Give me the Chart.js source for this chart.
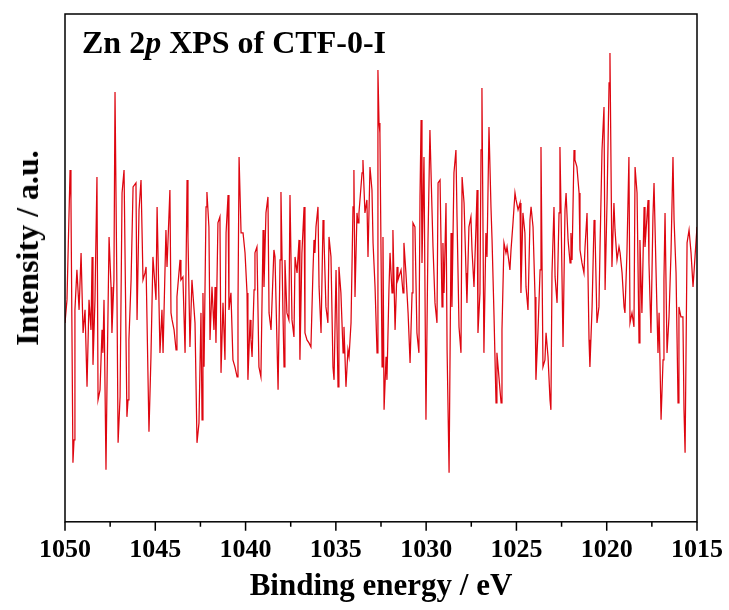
<!DOCTYPE html>
<html>
<head>
<meta charset="utf-8">
<script src="https://cdn.jsdelivr.net/npm/chart.js@4.4.1/dist/chart.umd.min.js"></script>
<style>
  body { margin: 0; background: #fff; }
  #wrap { position: relative; width: 729px; height: 610px; }
  #label {
    position: absolute; left: 82px; top: 26px;
    font: bold 32px "Liberation Serif", "Times New Roman", serif;
    line-height: 32px; color: #000; white-space: nowrap;
  }
  #ytitle {
    position: absolute; left: 27px; top: 248px;
    transform: translate(-50%, -50%) rotate(-90deg);
    font: bold 32px "Liberation Serif", "Times New Roman", serif;
    line-height: 32px; color: #000; white-space: nowrap;
  }
</style>
</head>
<body>
<div id="wrap">
  <canvas id="xpsChart"></canvas>
  <div id="label">Zn 2<i>p</i> XPS of CTF-0-I</div>
  <div id="ytitle">Intensity / a.u.</div>
</div>
<script>
// Energia di legame (eV)
const energy = [
  1050.00,1049.89,1049.72,1049.67,1049.56,1049.50,1049.45,1049.34,1049.22,1049.11,
  1049.00,1048.89,1048.78,1048.67,1048.56,1048.50,1048.45,1048.34,1048.23,1048.17,
  1048.06,1047.95,1047.90,1047.84,1047.73,1047.67,1047.56,1047.45,1047.40,1047.29,
  1047.23,1047.12,1047.06,1046.95,1046.84,1046.73,
  1046.57,1046.51,1046.46,1046.34,1046.23,1046.07,1046.01,1045.90,1045.79,1045.68,
  1045.57,1045.51,1045.35,1045.24,1045.13,1044.96,1044.90,1044.74,1044.63,1044.57,
  1044.41,1044.35,1044.19,1044.13,1044.07,1043.96,1043.85,1043.80,1043.63,1043.58,
  1043.47,1043.35,1043.24,1043.19,1043.08,
  1042.97,1042.80,1042.69,1042.58,1042.47,1042.41,1042.36,1042.30,1042.19,1042.14,
  1042.03,1041.97,1041.86,1041.75,1041.69,1041.64,1041.53,1041.42,1041.36,1041.25,
  1041.14,1041.08,1040.97,1040.92,1040.81,1040.70,1040.59,1040.47,1040.42,1040.36,
  1040.25,1040.14,1040.03,1039.92,1039.87,1039.75,1039.70,
  1039.64,1039.53,1039.48,1039.37,1039.26,1039.15,1039.03,1038.98,1038.87,1038.76,
  1038.70,1038.59,1038.43,1038.37,1038.20,1038.09,1038.04,1037.93,1037.87,1037.82,
  1037.71,1037.60,1037.54,1037.43,1037.32,1037.26,1037.15,1037.04,1036.99,1036.88,
  1036.76,1036.71,1036.60,1036.49,1036.38,1036.27,1036.21,1036.16,
  1036.10,1035.99,1035.93,1035.82,1035.71,1035.66,1035.55,1035.44,1035.38,1035.27,
  1035.16,1035.10,1034.99,1034.88,1034.83,1034.72,1034.60,1034.55,1034.44,1034.33,
  1034.27,1034.16,1034.05,1034.00,1033.94,1033.83,1033.77,1033.72,1033.55,1033.50,
  1033.39,1033.28,1033.22,1033.11,1033.00,1032.94,1032.83,1032.72,1032.67,1032.61,
  1032.56,1032.44,1032.39,1032.33,1032.22,1032.17,1032.06,1032.00,1031.89,1031.84,
  1031.72,1031.61,1031.56,1031.39,1031.28,1031.23,1031.12,1031.00,1030.89,1030.78,
  1030.73,1030.62,1030.51,1030.40,1030.34,1030.28,1030.23,1030.12,1030.01,1029.90,
  1029.79,1029.68,1029.62,1029.51,1029.40,1029.34,1029.23,1029.12,1029.07,
  1029.01,1028.90,1028.84,1028.73,1028.62,1028.57,1028.46,1028.35,1028.29,1028.18,
  1028.07,1028.01,1027.90,1027.79,1027.74,1027.63,1027.52,1027.46,1027.35,1027.24,
  1027.18,1027.13,1027.02,1026.96,1026.91,1026.80,1026.69,1026.63,1026.52,1026.41,
  1026.35,1026.24,1026.13,1026.08,1025.97,1025.85,1025.80,1025.69,1025.58,1025.52,
  1025.36,1025.30,1025.19,1025.08,1025.02,1024.91,1024.80,1024.75,1024.64,1024.53,
  1024.47,1024.36,1024.25,1024.19,1024.08,1023.97,1023.92,1023.81,1023.69,1023.64,
  1023.53,1023.42,1023.36,1023.25,1023.14,1023.09,1023.03,1022.92,1022.86,1022.75,
  1022.64,1022.59,1022.53,1022.42,1022.31,1022.25,1022.14,1022.03,1021.98,
  1021.92,1021.81,1021.76,1021.65,1021.53,1021.48,1021.37,1021.26,1021.20,1021.09,
  1020.98,1020.93,1020.81,1020.70,1020.65,1020.54,1020.43,1020.37,1020.26,1020.15,
  1020.09,1019.98,1019.87,1019.82,1019.71,1019.60,1019.54,1019.43,1019.32,1019.26,
  1019.15,1019.04,1018.99,1018.88,1018.77,1018.71,1018.60,1018.49,1018.43,
  1018.32,1018.21,1018.16,1018.05,1017.93,1017.88,1017.71,1017.66,1017.55,1017.44,
  1017.38,1017.27,1017.16,1017.10,1016.99,1016.88,1016.83,1016.77,1016.66,1016.55,
  1016.44,1016.33,1016.27,1016.16,1016.05,1016.00,1015.89,1015.78,1015.72,1015.66,
  1015.55,1015.44,1015.33,1015.22,1015.11,1015.00
];

// Intensita' (unita' arbitrarie)
const intensity = [
  199,222,352,322,59,82,212,252,212,269,
  189,212,135,222,192,265,157,222,345,122,
  132,192,169,222,52,142,285,235,189,242,
  430,222,79,125,329,352,
  105,122,182,242,335,339,202,312,342,242,
  249,255,90,165,265,222,315,169,212,169,
  292,255,332,209,202,192,172,225,262,242,
  245,169,342,285,175,
  242,199,79,99,209,102,229,155,315,330,
  295,182,235,192,235,179,299,305,149,219,
  162,289,327,212,229,162,155,145,215,365,
  289,289,269,229,142,202,182,
  165,232,269,275,155,145,292,235,309,325,
  209,192,272,265,132,262,330,209,155,262,
  209,202,327,202,185,265,249,282,162,269,
  315,189,182,179,175,249,282,269,
  295,315,235,189,302,285,215,199,285,265,
  155,142,252,135,255,229,169,195,135,172,
  165,199,315,352,225,309,299,309,349,362,
  309,322,265,355,332,279,235,169,452,399,
  389,155,285,112,165,142,232,269,229,292,
  192,255,242,252,229,279,249,209,159,229,
  299,295,189,169,325,402,259,365,102,279,
  392,315,275,219,199,339,342,215,279,
  229,319,172,49,289,215,349,372,305,195,
  169,345,319,249,219,295,305,272,235,295,
  332,189,229,372,434,169,289,265,395,315,
  282,205,119,169,145,119,192,279,269,275,
  252,272,299,329,322,312,319,229,309,289,
  235,212,302,315,295,225,142,189,252,375,
  155,162,189,165,122,112,249,315,245,219,
  309,375,312,175,312,329,282,259,289,
  262,372,362,355,329,272,259,249,275,309,
  182,155,215,302,292,199,215,275,372,415,
  232,322,439,469,255,319,292,262,275,269,
  249,215,209,269,365,199,209,195,355,
  329,179,282,209,315,275,322,259,189,305,
  339,252,169,209,102,162,242,309,169,205,
  269,365,302,249,119,215,205,205,112,69,
  279,292,269,235,265,295
];

// Tacche dell'asse x
const majorTicks = [1050, 1045, 1040, 1035, 1030, 1025, 1020, 1015];
const minorTicks = [1047.5, 1042.5, 1037.5, 1032.5, 1027.5, 1022.5, 1017.5];

const serif = '"Liberation Serif", "Times New Roman", serif';

// Cornice e tacche disegnate a mano (lunghezze diverse per maggiori/minori)
const frameTicks = {
  id: 'frameTicks',
  afterDatasetsDraw(chart) {
    const { ctx, chartArea: a, scales: { x } } = chart;
    ctx.save();
    ctx.strokeStyle = '#000';
    ctx.lineWidth = 1.5;
    ctx.strokeRect(a.left, a.top, a.right - a.left, a.bottom - a.top);
    ctx.beginPath();
    majorTicks.forEach(v => {
      const px = x.getPixelForValue(v);
      ctx.moveTo(px, a.bottom);
      ctx.lineTo(px, a.bottom + 9);
    });
    minorTicks.forEach(v => {
      const px = x.getPixelForValue(v);
      ctx.moveTo(px, a.bottom);
      ctx.lineTo(px, a.bottom + 5);
    });
    ctx.stroke();
    ctx.restore();
  }
};

const ctx = document.getElementById('xpsChart').getContext('2d');
new Chart(ctx, {
  type: 'line',
  data: {
    datasets: [{
      data: energy.map((e, i) => ({ x: e, y: intensity[i] })),
      borderColor: 'rgb(222,6,16)',
      borderWidth: 1.25,
      pointRadius: 0,
      fill: false,
      tension: 0
    }]
  },
  options: {
    responsive: true,
    maintainAspectRatio: false,
    animation: false,
    layout: { padding: { left: 65, right: 32, top: 14, bottom: 4 } },
    plugins: { legend: { display: false }, tooltip: { enabled: false } },
    scales: {
      x: {
        type: 'linear',
        reverse: true,
        min: 1015,
        max: 1050,
        grid: { display: false, drawTicks: true, tickLength: 9 },
        border: { display: false },
        ticks: {
          stepSize: 5,
          padding: 6,
          color: '#000',
          font: { family: serif, size: 26, weight: 'bold', lineHeight: 1 },
          callback: v => String(v)
        },
        title: {
          display: true,
          text: 'Binding energy / eV',
          color: '#000',
          font: { family: serif, size: 31, weight: 'bold' },
          padding: { top: 0, bottom: 0 }
        }
      },
      y: {
        display: false,
        min: 0,
        max: 508
      }
    }
  },
  plugins: [frameTicks]
});
</script>
</body>
</html>
